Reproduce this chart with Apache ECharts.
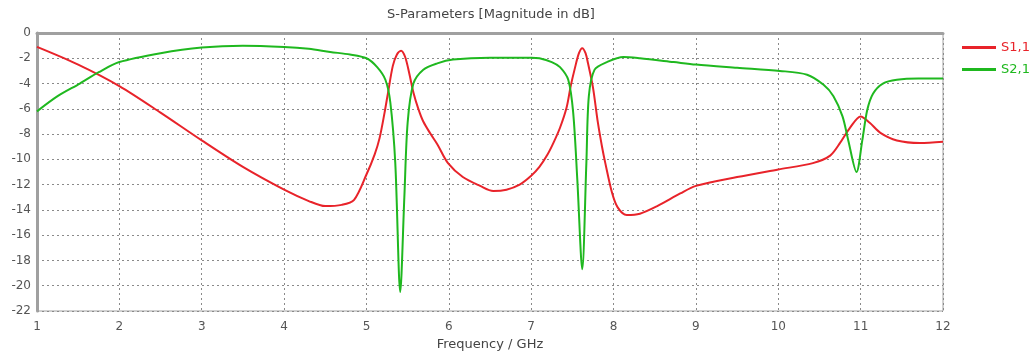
<!DOCTYPE html>
<html>
<head>
<meta charset="utf-8">
<script src="https://cdn.jsdelivr.net/npm/echarts@6/dist/echarts.min.js"></script>
<style>
  html, body { margin: 0; padding: 0; background: #fff; }
  #chart { width: 1031px; height: 364px; }
</style>
</head>
<body>
<div id="chart"></div>
<script>
// S1,1
var s11Freq = [1.0, 1.5, 2.0, 2.5, 3.0, 3.5, 4.0, 4.3, 4.5, 4.7, 4.85, 5.0, 5.1, 5.16, 5.22, 5.26, 5.32, 5.37, 5.42, 5.47,
  5.52, 5.57, 5.63, 5.69, 5.78, 5.86, 5.99, 6.17, 6.38, 6.54, 6.7, 6.86, 7.0, 7.1, 7.2, 7.27, 7.35, 7.43, 7.48, 7.53,
  7.58, 7.62, 7.66, 7.69, 7.75, 7.81, 7.86, 7.9, 7.98, 8.05, 8.16, 8.32, 8.53, 8.81, 9.0, 9.5, 10.0, 10.42, 10.63, 10.75,
  10.87, 11.0, 11.11, 11.24, 11.44, 11.72, 12.0];
var s11Db = [-1.1, -2.5, -4.2, -6.3, -8.5, -10.6, -12.4, -13.3, -13.7, -13.6, -13.2, -11.2, -9.6, -8.3, -6.3, -4.8, -2.6, -1.7, -1.4, -1.9,
  -3.2, -4.7, -6.0, -7.0, -8.0, -8.8, -10.3, -11.4, -12.1, -12.5, -12.4, -12.0, -11.3, -10.6, -9.6, -8.7, -7.5, -5.9, -4.2, -2.8,
  -1.6, -1.2, -1.6, -2.4, -4.3, -7.1, -9.0, -10.3, -12.6, -13.8, -14.4, -14.3, -13.7, -12.7, -12.1, -11.4, -10.8, -10.3, -9.7, -8.7,
  -7.5, -6.6, -7.1, -7.9, -8.5, -8.7, -8.6];

// S2,1
var s21Freq = [1.0, 1.25, 1.52, 1.75, 2.0, 2.5, 3.0, 3.5, 4.0, 4.3, 4.56, 4.8, 5.0, 5.13, 5.23, 5.29, 5.35, 5.41, 5.46, 5.5,
  5.57, 5.69, 5.86, 6.05, 6.5, 7.0, 7.1, 7.25, 7.35, 7.45, 7.51, 7.56, 7.62, 7.67, 7.7, 7.77, 7.92, 8.12, 8.32, 8.73,
  9.0, 9.5, 10.02, 10.35, 10.55, 10.67, 10.78, 10.85, 10.95, 11.02, 11.08, 11.15, 11.27, 11.44, 11.7, 12.0];
var s21Db = [-6.2, -5.0, -4.0, -3.1, -2.3, -1.6, -1.15, -1.0, -1.1, -1.25, -1.5, -1.7, -2.0, -2.7, -3.7, -5.5, -10.3, -20.5, -13.0, -7.1,
  -4.0, -2.9, -2.4, -2.1, -1.95, -1.95, -2.0, -2.3, -2.7, -3.7, -6.3, -11.6, -18.7, -10.3, -5.0, -2.9, -2.3, -1.9, -2.0, -2.3,
  -2.5, -2.75, -3.0, -3.3, -4.1, -5.0, -6.6, -8.5, -11.0, -8.5, -6.1, -4.8, -4.0, -3.7, -3.6, -3.6];

function pairs(xs, ys) {
  return xs.map(function (x, i) { return [x, ys[i]]; });
}

var chart = echarts.init(document.getElementById('chart'));

var fontFamily = 'DejaVu Sans';
var gridLine = { show: true, lineStyle: { color: '#8a8a8a', type: [2, 3], width: 1 } };

chart.setOption({
  animation: false,
  title: {
    text: 'S-Parameters [Magnitude in dB]',
    left: 486,
    textAlign: 'center',
    top: 3,
    textStyle: { fontFamily: fontFamily, fontSize: 13, fontWeight: 'normal', color: '#444' }
  },
  legend: {
    orient: 'vertical',
    left: 957,
    top: 36,
    itemWidth: 34,
    itemHeight: 3,
    itemGap: 9,
    icon: 'rect',
    textStyle: { fontFamily: fontFamily, fontSize: 13 },
    data: [
      { name: 'S1,1', textStyle: { color: '#e8232a' } },
      { name: 'S2,1', textStyle: { color: '#1fb81f' } }
    ]
  },
  grid: { left: 37, right: 88, top: 33, bottom: 53, show: true, borderColor: '#a0a0a0', borderWidth: 1 },
  xAxis: {
    type: 'value',
    min: 1, max: 12, interval: 1,
    name: 'Frequency / GHz',
    nameLocation: 'middle',
    nameGap: 27,
    nameTextStyle: { fontFamily: fontFamily, fontSize: 13, color: '#444' },
    axisLine: { lineStyle: { color: '#a0a0a0', width: 3 } },
    axisTick: { show: false },
    axisLabel: { fontFamily: fontFamily, fontSize: 12, color: '#555', margin: 10 },
    splitLine: gridLine
  },
  yAxis: {
    type: 'value',
    min: -22, max: 0, interval: 2,
    axisLine: { show: true, lineStyle: { color: '#a0a0a0', width: 3 } },
    axisTick: { show: false },
    axisLabel: { fontFamily: fontFamily, fontSize: 12, color: '#555', margin: 6 },
    splitLine: gridLine
  },
  series: [
    {
      name: 'S1,1', type: 'line', symbol: 'none',
      smooth: 0.3,
      lineStyle: { color: '#e8232a', width: 2 }, itemStyle: { color: '#e8232a' },
      data: pairs(s11Freq, s11Db)
    },
    {
      name: 'S2,1', type: 'line', symbol: 'none',
      smooth: 0.3,
      lineStyle: { color: '#1fb81f', width: 2 }, itemStyle: { color: '#1fb81f' },
      data: pairs(s21Freq, s21Db)
    }
  ]
});
</script>
</body>
</html>
